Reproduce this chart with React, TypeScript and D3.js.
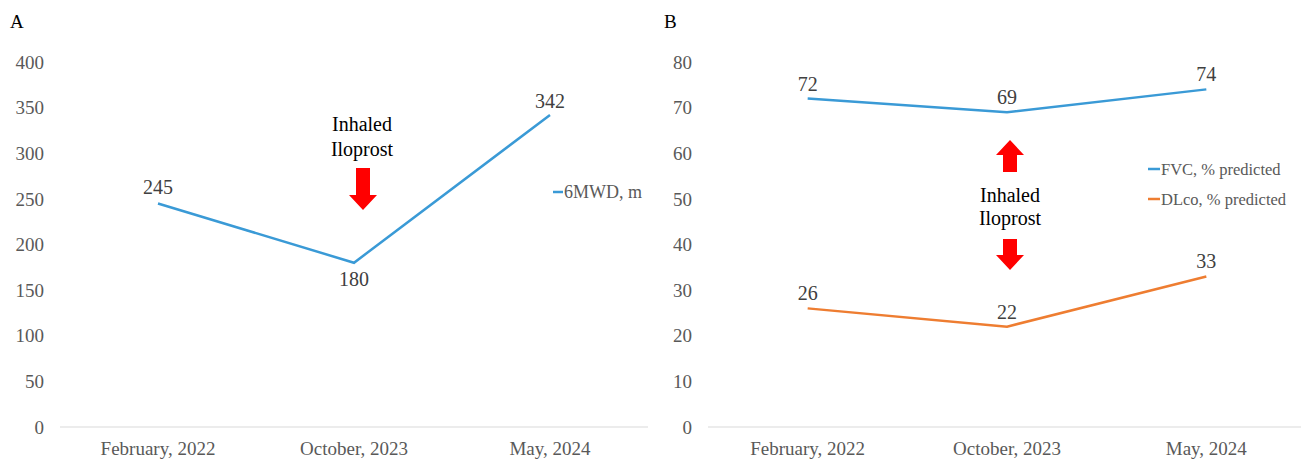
import React from "react";
import * as d3 from "d3";

const categories = ["February, 2022", "October, 2023", "May, 2024"];
const sixMWD = [245, 180, 342];
const fvc = [72, 69, 74];
const dlco = [26, 22, 33];
const ticksA = [0, 50, 100, 150, 200, 250, 300, 350, 400];
const ticksB = [0, 10, 20, 30, 40, 50, 60, 70, 80];

const BLUE = "#3a9ad6";
const ORANGE = "#ee7d31";
const GRAY = "#595959";
const FONT = "Liberation Serif";

function Arrow({ cx, yTop, yBot, dir }: { cx: number; yTop: number; yBot: number; dir: "up" | "down" }) {
  const sw = 7, hw = 14, hh = 15;
  let pts: number[][];
  if (dir === "down") {
    pts = [[cx - sw, yTop], [cx + sw, yTop], [cx + sw, yBot - hh], [cx + hw, yBot - hh], [cx, yBot], [cx - hw, yBot - hh], [cx - sw, yBot - hh]];
  } else {
    pts = [[cx, yTop], [cx + hw, yTop + hh], [cx + sw, yTop + hh], [cx + sw, yBot], [cx - sw, yBot], [cx - sw, yTop + hh], [cx - hw, yTop + hh]];
  }
  return <polygon points={pts.map((p) => p.join(",")).join(" ")} fill="#ff0000" />;
}

const T = (props: any) => <text {...props} style={{ fontFamily: FONT }} />;

export default function App() {
  const top = 62, bottom = 427;
  const xA = d3.scaleBand().domain(categories).range([60, 648]);
  const yA = d3.scaleLinear().domain([0, 400]).range([bottom, top]);
  const xB = d3.scaleBand().domain(categories).range([708, 1306]);
  const yB = d3.scaleLinear().domain([0, 80]).range([bottom, top]);
  const cA = (c: string) => (xA(c) as number) + xA.bandwidth() / 2;
  const cB = (c: string) => (xB(c) as number) + xB.bandwidth() / 2;

  const lineA = d3.line<number>().x((_, i) => cA(categories[i])).y((d) => yA(d));
  const lineB = d3.line<number>().x((_, i) => cB(categories[i])).y((d) => yB(d));

  const labelOffA = [-9, 23, -7];
  const labelOffFvc = [-8, -8, -8];
  const labelOffDl = [-8, -8, -8];

  return (
    <svg width={1301} height={466} style={{ position: "absolute", left: 0, top: 0, background: "#fff" }}>
      <T x={10} y={28} fontSize={19} fill="#000">A</T>
      <T x={664} y={28} fontSize={19} fill="#000">B</T>

      {/* Panel A */}
      <line x1={60} x2={648} y1={bottom} y2={bottom} stroke="#d9d9d9" strokeWidth={1} />
      {ticksA.map((t) => (
        <T key={t} x={44} y={yA(t)} dy="0.35em" textAnchor="end" fontSize={19} fill={GRAY}>{t}</T>
      ))}
      {categories.map((c) => (
        <T key={c} x={cA(c)} y={455} textAnchor="middle" fontSize={19} fill={GRAY}>{c}</T>
      ))}
      <path d={lineA(sixMWD) || ""} fill="none" stroke={BLUE} strokeWidth={2.5} />
      {sixMWD.map((v, i) => (
        <T key={i} x={cA(categories[i])} y={yA(v) + labelOffA[i]} textAnchor="middle" fontSize={20} fill="#404040">{v}</T>
      ))}
      <T x={362} y={131} textAnchor="middle" fontSize={20} fill="#000">Inhaled</T>
      <T x={362} y={156} textAnchor="middle" fontSize={20} fill="#000">Iloprost</T>
      <Arrow cx={363} yTop={168} yBot={210} dir="down" />
      <line x1={553} x2={563} y1={192} y2={192} stroke={BLUE} strokeWidth={2.5} />
      <T x={564} y={198} fontSize={18} fill={GRAY}>6MWD, m</T>

      {/* Panel B */}
      <line x1={708} x2={1306} y1={bottom} y2={bottom} stroke="#d9d9d9" strokeWidth={1} />
      {ticksB.map((t) => (
        <T key={t} x={692} y={yB(t)} dy="0.35em" textAnchor="end" fontSize={19} fill={GRAY}>{t}</T>
      ))}
      {categories.map((c) => (
        <T key={c} x={cB(c)} y={455} textAnchor="middle" fontSize={19} fill={GRAY}>{c}</T>
      ))}
      <path d={lineB(fvc) || ""} fill="none" stroke={BLUE} strokeWidth={2.5} />
      <path d={lineB(dlco) || ""} fill="none" stroke={ORANGE} strokeWidth={2.5} />
      {fvc.map((v, i) => (
        <T key={i} x={cB(categories[i])} y={yB(v) + labelOffFvc[i]} textAnchor="middle" fontSize={20} fill="#404040">{v}</T>
      ))}
      {dlco.map((v, i) => (
        <T key={i} x={cB(categories[i])} y={yB(v) + labelOffDl[i]} textAnchor="middle" fontSize={20} fill="#404040">{v}</T>
      ))}
      <Arrow cx={1010} yTop={140} yBot={172} dir="up" />
      <T x={1010} y={202} textAnchor="middle" fontSize={20} fill="#000">Inhaled</T>
      <T x={1010} y={225} textAnchor="middle" fontSize={20} fill="#000">Iloprost</T>
      <Arrow cx={1010} yTop={239} yBot={270} dir="down" />
      <line x1={1148} x2={1160} y1={169} y2={169} stroke={BLUE} strokeWidth={2.5} />
      <T x={1161} y={175} fontSize={16.5} fill={GRAY}>FVC, % predicted</T>
      <line x1={1148} x2={1160} y1={199} y2={199} stroke={ORANGE} strokeWidth={2.5} />
      <T x={1161} y={205} fontSize={16.5} fill={GRAY}>DLco, % predicted</T>
    </svg>
  );
}
